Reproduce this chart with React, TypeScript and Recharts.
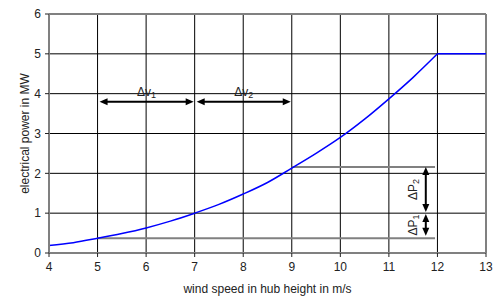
import React from "react";
import {
  LineChart,
  Line,
  XAxis,
  YAxis,
  CartesianGrid,
  ReferenceLine,
  Label,
} from "recharts";

// power curve
const windSpeed = [4, 4.5, 5, 5.5, 6, 6.5, 7, 7.5, 8, 8.5, 9, 9.5, 10, 10.5, 11, 11.5, 12, 12.5, 13];
const power = [0.19, 0.26, 0.37, 0.49, 0.63, 0.8, 1.0, 1.22, 1.48, 1.77, 2.13, 2.5, 2.9, 3.36, 3.87, 4.41, 5.0, null, null];
const ratedPower = [null, null, null, null, null, null, null, null, null, null, null, null, null, null, null, null, 5.0, 5.0, 5.0];

const xTicks = [4, 5, 6, 7, 8, 9, 10, 11, 12, 13];
const yTicks = [0, 1, 2, 3, 4, 5, 6];

// annotations (data coordinates)
const speedArrows = [
  { from: 5, to: 7, level: 3.8, sub: "1" },
  { from: 7, to: 9, level: 3.8, sub: "2" },
];
const levelLines = [
  { from: 5, to: 11.95, level: 0.37 },
  { from: 9, to: 11.95, level: 2.16 },
];
const powerArrows = [
  { at: 11.76, from: 0.43, to: 0.98, sub: "1" },
  { at: 11.76, from: 1.03, to: 2.16, sub: "2" },
];

const data = windSpeed.map((v, i) => ({ v, p: power[i], rated: ratedPower[i] }));

const FONT = "'Liberation Sans', Arial, sans-serif";
const GREY = "#808080";
const TEXT = "#222";

function hArrow(p: any, sub: string) {
  const y = p.y1;
  const a = Math.min(p.x1, p.x2) + 2;
  const b = Math.max(p.x1, p.x2) - 1;
  const head = 8;
  const hw = 3.5;
  return (
    <g>
      <line x1={a + head - 1} y1={y} x2={b - head + 1} y2={y} stroke="#000" strokeWidth={2} />
      <polygon points={`${a},${y} ${a + head},${y - hw} ${a + head},${y + hw}`} fill="#000" />
      <polygon points={`${b},${y} ${b - head},${y - hw} ${b - head},${y + hw}`} fill="#000" />
      <text x={(a + b) / 2} y={y - 6} textAnchor="middle" fontSize={12} fontFamily={FONT} fill={TEXT}>
        Δv<tspan dy={2} fontSize={9}>{sub}</tspan>
      </text>
    </g>
  );
}

function vArrow(p: any, sub: string) {
  const x = p.x1;
  const top = Math.min(p.y1, p.y2);
  const bot = Math.max(p.y1, p.y2);
  const head = 8;
  const hw = 3.5;
  const cx = x - 13;
  const cy = (top + bot) / 2;
  return (
    <g>
      <line x1={x} y1={top + head - 1} x2={x} y2={bot - head + 1} stroke="#000" strokeWidth={2} />
      <polygon points={`${x},${top} ${x - hw},${top + head} ${x + hw},${top + head}`} fill="#000" />
      <polygon points={`${x},${bot} ${x - hw},${bot - head} ${x + hw},${bot - head}`} fill="#000" />
      <text
        x={cx}
        y={cy}
        transform={`rotate(-90 ${cx} ${cy})`}
        textAnchor="middle"
        dominantBaseline="central"
        fontSize={12}
        fontFamily={FONT}
        fill={TEXT}
      >
        ΔP<tspan dy={3} fontSize={9}>{sub}</tspan>
      </text>
    </g>
  );
}

export default function App() {
  return (
    <div style={{ position: "fixed", left: 0, top: 0, background: "#fff" }}>
      <LineChart
        width={494}
        height={299}
        data={data}
        margin={{ top: 14, right: 8, bottom: 0, left: 0 }}
        style={{ fontFamily: FONT }}
      >
        <CartesianGrid stroke="#000" strokeWidth={1} />
        <XAxis
          dataKey="v"
          type="number"
          domain={[4, 13]}
          ticks={xTicks}
          interval={0}
          height={46}
          stroke={GREY}
          strokeWidth={2}
          tickSize={4}
          tickMargin={5}
          tick={{ fill: TEXT, fontSize: 12, fontFamily: FONT }}
          tickLine={{ stroke: TEXT, strokeWidth: 1 }}
        >
          <Label
            value="wind speed in hub height in m/s"
            position="insideBottom"
            offset={6}
            style={{ fill: TEXT, fontSize: 12, fontFamily: FONT }}
          />
        </XAxis>
        <YAxis
          type="number"
          domain={[0, 6]}
          ticks={yTicks}
          interval={0}
          width={49}
          stroke={GREY}
          strokeWidth={2}
          tickSize={4}
          tickMargin={4}
          tick={{ fill: TEXT, fontSize: 12, fontFamily: FONT }}
          tickLine={{ stroke: TEXT, strokeWidth: 1 }}
        >
          <Label
            value="electrical power in MW"
            angle={-90}
            position="center"
            dx={0}
            style={{ fill: TEXT, fontSize: 12, fontFamily: FONT, textAnchor: "middle" }}
          />
        </YAxis>
        <ReferenceLine y={6} stroke={GREY} strokeWidth={2} />
        <ReferenceLine x={13} stroke={GREY} strokeWidth={2} />
        {levelLines.map((l, i) => (
          <ReferenceLine
            key={`lvl-${i}`}
            segment={[
              { x: l.from, y: l.level },
              { x: l.to, y: l.level },
            ]}
            stroke={GREY}
            strokeWidth={2}
          />
        ))}
        <Line
          dataKey="p"
          type="monotone"
          stroke="#0000ff"
          strokeWidth={1.5}
          dot={false}
          activeDot={false}
          connectNulls={false}
          isAnimationActive={false}
        />
        <Line
          dataKey="rated"
          type="linear"
          stroke="#0000ff"
          strokeWidth={1.5}
          dot={false}
          activeDot={false}
          isAnimationActive={false}
        />
        {speedArrows.map((a, i) => (
          <ReferenceLine
            key={`dv-${i}`}
            segment={[
              { x: a.from, y: a.level },
              { x: a.to, y: a.level },
            ]}
            shape={(p: any) => hArrow(p, a.sub)}
          />
        ))}
        {powerArrows.map((a, i) => (
          <ReferenceLine
            key={`dp-${i}`}
            segment={[
              { x: a.at, y: a.from },
              { x: a.at, y: a.to },
            ]}
            shape={(p: any) => vArrow(p, a.sub)}
          />
        ))}
      </LineChart>
    </div>
  );
}
